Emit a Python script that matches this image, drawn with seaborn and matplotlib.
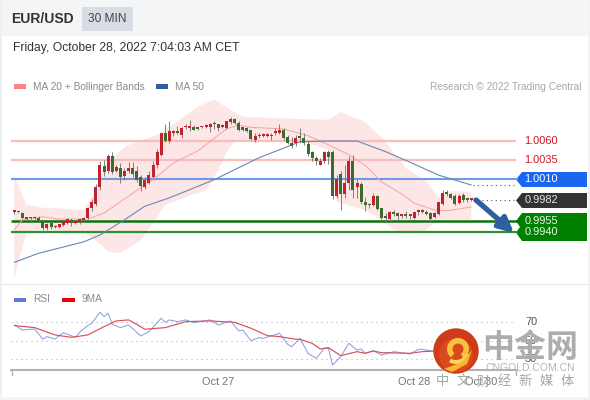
import numpy as np
import pandas as pd
import matplotlib
matplotlib.use('Agg')
import matplotlib.pyplot as plt
from matplotlib.patches import Rectangle, Polygon, Circle, Wedge
import seaborn as sns

# candles, red is up and green is down
opens = [
    .9967, .9966, .9965, .9957, .9958, .9958, .9959, .9953, .9945, .9952,
    .9946, .9946, .9949, .9952, .9956, .9952, .9953, .9956, .9958, .9971,
    .9977, .9999, 1.0027, 1.0020, 1.0040, 1.0021, 1.0025, 1.0014, 1.0020, 1.0025,
    1.0020, 1.0012, .9999, 1.0005, 1.0012, 1.0028, 1.0042, 1.0071, 1.0060, 1.0071,
    1.0072, 1.0068, 1.0078, 1.0077, 1.0079, 1.0078, 1.0078, 1.0079, 1.0079, 1.0084,
    1.0082, 1.0079, 1.0077, 1.0085, 1.0089, 1.0084, 1.0078, 1.0077, 1.0074, 1.0062,
    1.0066, 1.0067, 1.0067, 1.0066, 1.0070, 1.0071, 1.0075, 1.0065, 1.0058, 1.0058,
    1.0065, 1.0064, 1.0056, 1.0045, 1.0038, 1.0029, 1.0033, 1.0045, 1.0045, .9988,
    1.0017, .9990, 1.0004, 1.0034, .9999, 1.0003, .9980, .9976, .9975, .9988,
    .9971, .9960, .9957, .9967, .9965, .9961, .9964, .9961, .9958, .9967,
    .9967, .9967, .9965, .9960, .9964, .9977, .9992, .9990, .9987, .9978, .9989, .9983, .9982]
closes = [
    .9967, .9966, .9958, .9958, .9958, .9959, .9955, .9945, .9951, .9946,
    .9947, .9950, .9955, .9957, .9952, .9953, .9957, .9958, .9972, .9979,
    .9999, 1.0028, 1.0019, 1.0040, 1.0019, 1.0026, 1.0013, 1.0021, 1.0025, 1.0017,
    1.0008, 1.0001, 1.0008, 1.0015, 1.0028, 1.0045, 1.0070, 1.0060, 1.0073, 1.0072,
    1.0071, 1.0077, 1.0078, 1.0078, 1.0075, 1.0076, 1.0079, 1.0080, 1.0082, 1.0082,
    1.0077, 1.0080, 1.0086, 1.0089, 1.0084, 1.0075, 1.0074, 1.0073, 1.0063, 1.0067,
    1.0068, 1.0068, 1.0068, 1.0068, 1.0073, 1.0075, 1.0064, 1.0057, 1.0053, 1.0064,
    1.0064, 1.0058, 1.0043, 1.0037, 1.0033, 1.0034, 1.0045, 1.0039, .9987, 1.0010,
    .9990, 1.0004, 1.0034, .9995, 1.0004, .9979, .9975, .9975, .9987, .9970,
    .9958, .9959, .9967, .9964, .9961, .9962, .9961, .9961, .9966, .9967,
    .9968, .9964, .9957, .9965, .9979, .9991, .9990, .9985, .9977, .9987, .9982, .9982, .9982]
highs = [
    .9968, .9967, .9966, .9959, .9960, .9961, .9961, .9955, .9952, .9953,
    .9949, .9951, .9956, .9959, .9958, .9955, .9958, .9960, .9973, .9983,
    1.0003, 1.0034, 1.0035, 1.0043, 1.0045, 1.0028, 1.0031, 1.0024, 1.0032, 1.0032,
    1.0027, 1.0015, 1.0012, 1.0021, 1.0033, 1.0049, 1.0071, 1.0082, 1.0087, 1.0075,
    1.0080, 1.0079, 1.0083, 1.0088, 1.0081, 1.0079, 1.0080, 1.0082, 1.0084, 1.0086,
    1.0083, 1.0082, 1.0087, 1.0092, 1.0091, 1.0086, 1.0079, 1.0078, 1.0075, 1.0070,
    1.0070, 1.0071, 1.0071, 1.0071, 1.0077, 1.0083, 1.0077, 1.0068, 1.0065, 1.0068,
    1.0077, 1.0070, 1.0060, 1.0047, 1.0040, 1.0037, 1.0047, 1.0048, 1.0048, 1.0015,
    1.0020, 1.0028, 1.0040, 1.0042, 1.0010, 1.0006, .9986, .9978, .9991, .9989,
    .9972, .9965, .9968, .9969, .9967, .9964, .9968, .9963, .9967, .9970,
    .9970, .9969, .9966, .9966, .9980, .9995, .9995, .9992, .9990, .9990, .9991, .9985, .9983]
lows = [
    .9964, .9965, .9957, .9956, .9955, .9956, .9953, .9942, .9943, .9944,
    .9945, .9945, .9948, .9950, .9948, .9950, .9951, .9955, .9957, .9968,
    .9974, .9995, 1.0014, 1.0018, 1.0017, 1.0019, 1.0004, 1.0009, 1.0018, 1.0012,
    1.0006, .9994, .9997, 1.0003, 1.0010, 1.0025, 1.0040, 1.0059, 1.0058, 1.0066,
    1.0069, 1.0064, 1.0076, 1.0073, 1.0074, 1.0074, 1.0077, 1.0077, 1.0072, 1.0076,
    1.0073, 1.0077, 1.0076, 1.0083, 1.0082, 1.0073, 1.0073, 1.0072, 1.0062, 1.0059,
    1.0064, 1.0065, 1.0065, 1.0062, 1.0068, 1.0069, 1.0061, 1.0056, 1.0051, 1.0053,
    1.0058, 1.0055, 1.0040, 1.0033, 1.0029, 1.0028, 1.0031, 1.0030, .9984, .9985,
    .9969, .9985, .9995, .9985, .9985, .9977, .9968, .9972, .9974, .9969,
    .9957, .9953, .9954, .9961, .9956, .9958, .9959, .9957, .9957, .9963,
    .9965, .9962, .9953, .9958, .9962, .9976, .9988, .9983, .9976, .9977, .9980, .9980, .9981]

band_up_bar = [0, 1, 3, 7, 17, 20, 22, 27, 29, 35, 40, 45, 49, 53, 56, 70, 77, 80, 86, 91, 96, 101, 104, 107, 112]
band_up = [1.0015, 1.0001, .9976, .9972, .9969, .9995, 1.0028, 1.0052, 1.0057, 1.0068, 1.0086, 1.0105, 1.0115,
           1.0101, 1.0092, 1.0089, 1.0088, 1.0098, 1.0085, 1.0059, 1.0024, 1.0007, .9985, .9994, .9993]
band_low_bar = [0, 1, 3, 7, 17, 20, 23, 26, 31, 37, 42, 47, 50, 52, 54, 60, 70, 77, 78, 79, 86, 90, 93, 97, 101, 104, 112]
band_low = [.9877, .9900, .9940, .9943, .9940, .9929, .9914, .9912, .9929, .9976, .9986, .9995, 1.0022, 1.0045,
            1.0060, 1.0060, 1.0060, 1.0049, 1.0009, .9980, .9969, .9956, .9943, .9939, .9943, .9956, .9956]

ma20_bar = [0, 2, 7, 11, 18, 22, 29, 34, 39, 45, 52, 55, 58, 66, 72, 77, 82, 86, 90, 95, 98, 103, 106, 112]
ma20 = [.9943, .9956, .9960, .9957, .9957, .9965, .9991, 1.0009, 1.0031, 1.0047, 1.0076, 1.0081, 1.0078, 1.0076,
        1.0067, 1.0055, 1.0042, 1.0028, 1.0006, .9990, .9978, .9969, .9968, .9973]
ma50_bar = [0, 6, 17, 21, 27, 32, 38, 49, 60, 70, 77, 84, 91, 97, 104, 112]
ma50 = [.9900, .9912, .9927, .9936, .9956, .9974, .9985, 1.0009, 1.0038, 1.0059, 1.0060, 1.0060, 1.0046, 1.0032,
        1.0015, 1.0002]

rsi_bar = [0, 2, 5, 7, 8, 10, 12, 15, 16, 18, 19, 21, 22, 23, 24, 26, 28, 31, 33, 36, 37, 38, 40, 42, 44, 48, 50, 53,
           55, 56, 58, 60, 61, 65, 67, 68, 70, 72, 74, 76, 77, 78, 80, 82, 84, 85, 86, 88, 90, 93, 97, 99, 100, 103]
rsi = [67.1, 61.6, 62.7, 51.5, 54.4, 51.8, 58.7, 53.6, 59.1, 66.4, 68.9, 80.9, 76.2, 79.8, 67.8, 64.2, 67.1, 55.1,
       59.8, 74.4, 70.0, 72.6, 70.7, 72.6, 69.7, 72.6, 67.1, 71.5, 60.6, 61.6, 50.0, 53.3, 52.5, 58.0, 46.0, 43.4,
       52.5, 36.2, 30.7, 41.6, 41.6, 23.4, 32.5, 47.1, 39.8, 40.9, 36.2, 39.1, 34.3, 38.0, 35.4, 40.5, 40.5, 38.0]
rsi_ma_bar = [0, 5, 10, 14, 18, 22, 25, 28, 30, 32, 37, 42, 48, 54, 58, 62, 65, 69, 70, 73, 75, 77, 80, 84, 86, 88, 90, 97, 100, 103]
rsi_ma = [66.4, 64.2, 56.2, 53.6, 56.2, 65.3, 71.5, 72.6, 67.8, 62.4, 64.2, 70.7, 71.5, 70.0, 63.5, 55.5, 54.4,
          51.5, 51.5, 47.1, 40.9, 42.4, 33.6, 38.0, 36.2, 38.7, 36.9, 36.2, 38.0, 38.7]

red_levels = [1.0060, 1.0035]
blue_level = 1.0010
last_price = 0.9982
green_levels = [0.9955, 0.9940]
rsi_levels = [70, 50, 30]
date_labels = ['Oct 27', 'Oct 28', 'Oct 30']
date_bars = [50, 98, 114.4]
media_chars = ['中', '文', '财', '经', '新', '媒', '体']

W, H = 590, 400
BAR0, BAR_STEP = 14.3, 4.08


def bar_at(px):
    return (px - BAR0) / BAR_STEP


def px_axes(zorder):
    a = fig.add_axes([0, 0, 1, 1], zorder=zorder)
    a.set_xlim(0, W)
    a.set_ylim(H, 0)
    a.axis('off')
    return a


sns.set_theme(style='white')
plt.rcParams['font.family'] = ['Liberation Sans', 'Noto Sans CJK SC', 'DejaVu Sans']

fig = plt.figure(figsize=(5.9, 4.0), dpi=100)
fig.patch.set_facecolor('white')

back = px_axes(0)
back.add_patch(Rectangle((0, 0), W, 36, color='#f4f5f6', lw=0))
back.add_patch(Rectangle((82, 7), 51, 24, color='#d9dce3', lw=0))
back.add_patch(Rectangle((0, 0), 1.5, H, color='#eef0f2', lw=0))
back.add_patch(Rectangle((587.5, 0), 3, H, color='#f2f3f5', lw=0))
back.add_patch(Rectangle((0, 396.5), W, 4, color='#f2f3f5', lw=0))
back.plot([1, 588], [284, 284], color='#e8e9ec', lw=0.8)
back.text(11, 19, 'EUR/USD', fontsize=10, fontweight='bold', color='#333333', va='center')
back.text(88, 19, '30 MIN', fontsize=8.6, color='#444444', va='center')
back.text(13, 48, 'Friday, October 28, 2022 7:04:03 AM CET', fontsize=8.75, color='#333333', va='center')
back.add_patch(Rectangle((14, 84), 12, 5, color='#fb8585', lw=0))
back.text(33, 86.5, 'MA 20 + Bollinger Bands', fontsize=7.25, color='#8a8a8a', va='center')
back.add_patch(Rectangle((156, 84), 12, 5, color='#2f5f9e', lw=0))
back.text(175, 86.5, 'MA 50', fontsize=7.25, color='#8a8a8a', va='center')
back.text(581, 86.5, 'Research © 2022 Trading Central', fontsize=7.25, color='#a8a8a8', va='center', ha='right')
back.add_patch(Rectangle((14, 298), 12, 4, color='#5b7bd5', lw=0))
back.text(33, 299.5, 'RSI', fontsize=7.25, color='#8a8a8a', va='center')
back.add_patch(Rectangle((62, 298), 13, 4, color='#e8000c', lw=0))
back.text(82, 299.5, '9MA', fontsize=7.25, color='#8a8a8a', va='center')

# main price panel, covers the full width so bars line up with the px helpers
ax = fig.add_axes([0, (H - 284) / H, 1, 214 / H], zorder=4)
ax.patch.set_alpha(0)
ax.set_xlim(bar_at(0), bar_at(W))
ax.set_ylim(0.98714, 1.01537)
ax.axis('off')

band_x = band_up_bar + band_low_bar[::-1]
band_y = band_up + band_low[::-1]
ax.fill(band_x, band_y, color='#fde6e6', lw=0, zorder=1)

ax.hlines(red_levels, bar_at(11), bar_at(516), color='#f8bcbc', lw=1.6, zorder=2)
ax.hlines(blue_level, bar_at(11), bar_at(518), color='#6f9ae8', lw=1.5, zorder=2)
ax.hlines(green_levels[0], bar_at(11), bar_at(518), color='#0b730b', lw=1.8, zorder=2)
ax.hlines(green_levels[1], bar_at(11), bar_at(518), color='#2f8f2f', lw=1.6, zorder=2)

sns.lineplot(x=ma20_bar, y=ma20, ax=ax, color='#f5a3a3', lw=0.7, zorder=3, legend=False)
sns.lineplot(x=ma50_bar, y=ma50, ax=ax, color='#6a88b5', lw=0.8, zorder=3, legend=False)

candles = pd.DataFrame({'open': opens, 'close': closes, 'high': highs, 'low': lows})
candles['bar'] = candles.index
up = candles['close'] >= candles['open']
ax.vlines(candles['bar'], candles['low'], candles['high'], color='#777777', lw=0.65, zorder=4)
body = (candles['close'] - candles['open']).abs().clip(lower=0.00022)
ax.bar(candles['bar'], body, bottom=candles[['open', 'close']].min(axis=1), width=0.74,
       color=np.where(up, '#c0232b', '#3c6b2c'), lw=0, zorder=5)

# dotted run out to the tags
ax.hlines([ma50[-1], last_price], bar_at(473), bar_at(514), color='#555555', lw=0.8,
          linestyles=(0, (1, 3)), zorder=3)

# rsi panel
rsi_ax = fig.add_axes([0, (H - 370) / H, 1, 80 / H], zorder=1)
rsi_ax.patch.set_alpha(0)
rsi_ax.set_xlim(bar_at(0), bar_at(W))
rsi_ax.set_ylim(18, 105.2)
rsi_ax.hlines(rsi_levels, bar_at(11), bar_at(516), color='#b5b5b5', lw=0.8, linestyles=(0, (1, 3.5)))
sns.lineplot(x=rsi_bar, y=rsi, ax=rsi_ax, color='#8aa0e0', lw=0.75, legend=False)
sns.lineplot(x=rsi_ma_bar, y=rsi_ma, ax=rsi_ax, color='#d9505a', lw=0.85, legend=False)
for side in ['top', 'left', 'right']:
    rsi_ax.spines[side].set_visible(False)
rsi_ax.spines['bottom'].set_color('#b2b2b2')
rsi_ax.spines['bottom'].set_linewidth(1.5)
rsi_ax.spines['bottom'].set_bounds(bar_at(11), bar_at(516))
rsi_ax.set_yticks([])
rsi_ax.set_xticks(date_bars)
rsi_ax.set_xticklabels(date_labels, fontsize=7.9, color='#777777')
rsi_ax.tick_params(axis='x', length=0, pad=5)
rsi_ax.set_xlabel('')
rsi_ax.set_ylabel('')
for lvl in rsi_levels:
    rsi_ax.text(bar_at(525), lvl, str(lvl), fontsize=7.9, color='#555555', va='center')

# tags, arrow and watermark on top
top = px_axes(3)
top.plot([11.5, 11.5], [370, 375], color='#b2b2b2', lw=1)
top.plot([516, 516], [370, 375], color='#b2b2b2', lw=1)
for lvl in red_levels:
    ax.text(bar_at(524.5), lvl, f'{lvl:.4f}', fontsize=7.9, color='#d01525', va='center', zorder=6)
top.add_patch(Polygon([(516, 179.5), (522, 172), (587, 172), (587, 187), (522, 187)], color='#1a66f0', lw=0))
top.add_patch(Polygon([(516, 200.5), (522, 193), (587, 193), (587, 208), (522, 208)], color='#333333', lw=0))
top.add_patch(Polygon([(522, 213), (587, 213), (587, 241), (522, 241), (516, 232.5), (520, 227), (516, 221)],
                      color='#008000', lw=0))
ax.text(bar_at(524.5), blue_level, f'{blue_level:.4f}', fontsize=7.9, color='white', va='center', zorder=6)
ax.text(bar_at(524.5), last_price, f'{last_price:.4f}', fontsize=7.9, color='#e6e6e6', va='center', zorder=6)
for lvl in green_levels:
    ax.text(bar_at(524.5), lvl, f'{lvl:.4f}', fontsize=7.9, color='#e8f5e8', va='center', zorder=6)

arrow = px_axes(6)
arrow.annotate('', xy=(514, 233), xytext=(476, 200),
               arrowprops=dict(arrowstyle='-|>', color='#2f5f9e', lw=3.8, mutation_scale=22, shrinkA=0, shrinkB=0))

mark = px_axes(5)
mark.add_patch(Circle((456, 351), 22.7, color='#cf3a1b', lw=0))
mark.add_patch(Circle((456, 355), 17, color='#d94a1c', lw=0))
mark.add_patch(Wedge((458, 349), 11, 130, 420, width=5.5, color='#f7c23c', lw=0))
mark.add_patch(Wedge((456, 350), 14, 20, 120, width=4, color='#fbd45a', lw=0))
mark.add_patch(Polygon([(444, 369), (462, 362), (472, 350), (467, 364), (452, 372)], color='#f7b733', lw=0))
mark.text(530, 347.5, '中金网', fontsize=23, fontweight='bold', color='#adadad', ha='center', va='center',
          family=['Noto Sans CJK SC', 'DejaVu Sans'])
mark.text(530, 368, 'CNGOLD.COM.CN', fontsize=7.5, color='#b5b5b5', ha='center', va='center')
for n, ch in enumerate(media_chars):
    mark.text(442 + n * 20.8, 382, ch, fontsize=9.5, color='#a5a5a5', ha='center', va='center',
              family=['Noto Sans CJK SC', 'DejaVu Sans'])

fig.savefig('out.png', dpi=100)
